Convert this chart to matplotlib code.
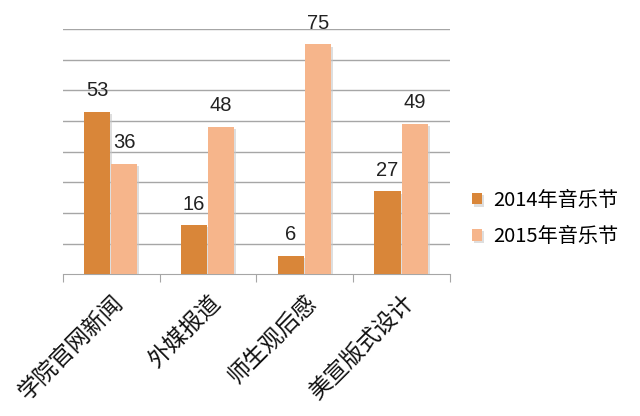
import numpy as np
import matplotlib.pyplot as plt
from matplotlib import patheffects as pe

plt.rcParams['font.family'] = ['Noto Sans CJK SC', 'DejaVu Sans']

categories = ['学院官网新闻', '外媒报道', '师生观后感', '美宣版式设计']
vals_2014 = [53, 16, 6, 27]
vals_2015 = [36, 48, 75, 49]
series_names = ['2014年音乐节', '2015年音乐节']

c14 = '#d98639'
c15 = '#f6b58b'

fig = plt.figure(figsize=(6.4, 4.16), dpi=100)
ax = fig.add_axes([0.098, 0.341, 0.605, 0.589])

x = np.arange(len(categories))
w = 0.27
shadow = [pe.SimplePatchShadow(offset=(1.5, -1.5), shadow_rgbFace='#c8c8c8', alpha=0.6), pe.Normal()]
b1 = ax.bar(x - 0.145, vals_2014, w, color=c14, label=series_names[0], zorder=3, path_effects=shadow)
b2 = ax.bar(x + 0.135, vals_2015, w, color=c15, label=series_names[1], zorder=3, path_effects=shadow)

for bars, vals in ((b1, vals_2014), (b2, vals_2015)):
    for r, v in zip(bars, vals):
        ax.text(r.get_x() + r.get_width() / 2, v + 3.8, str(v), ha='center', va='bottom',
                fontsize=14.5, color='#222222', family=['Liberation Sans', 'DejaVu Sans'], zorder=4)

ax.set_xlim(-0.5, len(categories) - 0.5)
ax.set_ylim(0, 80)
ax.set_yticks(np.arange(10, 81, 10))
ax.yaxis.grid(True, color='#a6a6a6', linewidth=1, zorder=0)
ax.tick_params(axis='y', length=0, labelleft=False)

ax.set_xticks(np.arange(-0.5, len(categories), 1.0))
ax.set_xticklabels([])
ax.set_xticks(x, minor=True)
ax.set_xticklabels(categories, minor=True, rotation=45, ha='right', rotation_mode='anchor',
                   fontsize=16.5, color='#111111')
ax.tick_params(axis='x', which='major', length=6, color='#a6a6a6', direction='out')
ax.tick_params(axis='x', which='minor', length=0, pad=12)

for s in ('top', 'right', 'left'):
    ax.spines[s].set_visible(False)
ax.spines['bottom'].set_color('#a6a6a6')

fig.legend(handles=[b1, b2], labels=series_names, loc='center left', bbox_to_anchor=(0.737, 0.475),
           frameon=False, borderpad=0, borderaxespad=0, handlelength=0.5, handleheight=0.5,
           handletextpad=0.55, labelspacing=0.75, prop={'family': ['Noto Sans CJK SC'], 'size': 14.5})

fig.savefig('out.png', dpi=100, facecolor='white')
